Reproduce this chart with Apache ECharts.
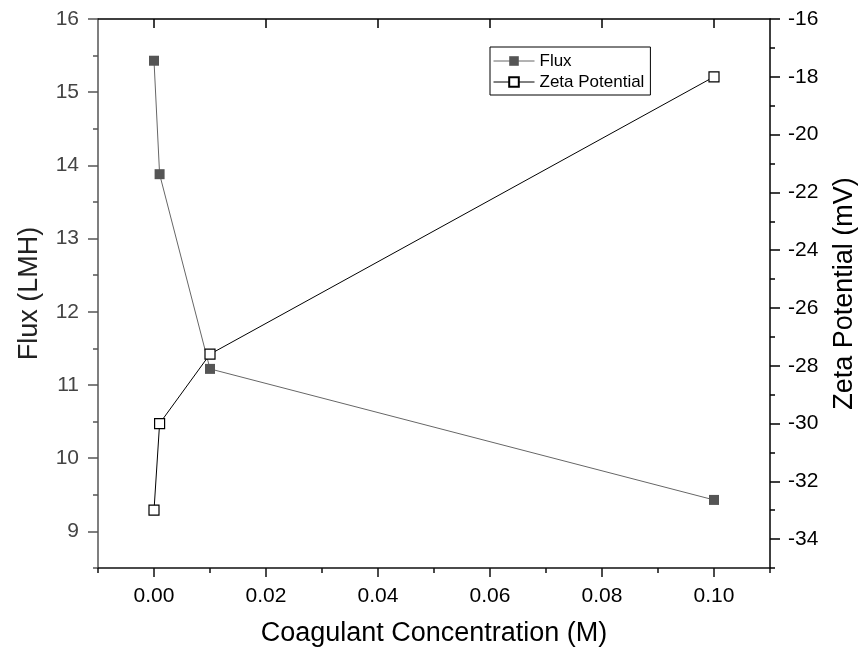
<!DOCTYPE html>
<html>
<head>
<meta charset="utf-8">
<script src="https://cdn.jsdelivr.net/npm/echarts@6/dist/echarts.min.js"></script>
<style>
  html, body { margin: 0; padding: 0; background: #fff; }
  #chart { width: 866px; height: 658px; }
</style>
</head>
<body>
<div id="chart"></div>
<script>
// values
const concentration = [0, 0.001, 0.01, 0.1];
const flux = [15.43, 13.88, 11.22, 9.43];
const zeta = [-33.0, -30.0, -27.6, -18.0];

const xMajor = [0, 0.02, 0.04, 0.06, 0.08, 0.1];
const xMinor = [-0.01, 0.01, 0.03, 0.05, 0.07, 0.09, 0.11];
const fluxMajor = [9, 10, 11, 12, 13, 14, 15, 16];
const fluxMinor = [8.5, 9.5, 10.5, 11.5, 12.5, 13.5, 14.5, 15.5];
const zetaMajor = [-34, -32, -30, -28, -26, -24, -22, -20, -18, -16];
const zetaMinor = [-35, -33, -31, -29, -27, -25, -23, -21, -19, -17];

const font = 'Liberation Sans, Arial, sans-serif';
const xRange = { min: -0.01, max: 0.11 };
const fluxRange = { min: 8.5, max: 16 };
const zetaRange = { min: -35, max: -16 };

// extra axis that only draws a set of ticks
function tickAxis(range, position, values, len, inside, color) {
    return Object.assign({
        type: 'value',
        position: position,
        splitLine: { show: false },
        axisLine: { show: false, onZero: false },
        axisLabel: { show: false },
        axisTick: {
            show: true,
            inside: inside,
            length: len,
            customValues: values,
            lineStyle: { color: color, width: 1.5 }
        }
    }, range);
}

const chart = echarts.init(document.getElementById('chart'));

chart.setOption({
    animation: false,
    grid: { left: 98, right: 92, top: 19, bottom: 90, containLabel: false },
    legend: {
        orient: 'vertical',
        left: 490,
        top: 47,
        padding: [5, 6, 4, 3],
        borderColor: '#000',
        borderWidth: 1,
        itemWidth: 41,
        itemHeight: 12,
        itemGap: 3,
        lineStyle: { width: 1 },
        textStyle: { fontFamily: font, fontSize: 17, lineHeight: 18, color: '#000' },
        data: ['Flux', 'Zeta Potential']
    },
    xAxis: [
        Object.assign({
            type: 'value',
            position: 'bottom',
            name: 'Coagulant Concentration (M)',
            nameLocation: 'middle',
            nameGap: 52,
            nameMoveOverlap: false,
            nameTextStyle: { fontFamily: font, fontSize: 27, color: '#000' },
            splitLine: { show: false },
            axisLine: { show: true, onZero: false, lineStyle: { color: '#111', width: 1.5 } },
            axisTick: {
                show: true,
                length: 9,
                customValues: xMajor,
                lineStyle: { color: '#111', width: 1.5 }
            },
            axisLabel: {
                margin: 18,
                customValues: xMajor,
                fontFamily: font,
                fontSize: 21,
                color: '#000',
                formatter: v => v.toFixed(2)
            }
        }, xRange),
        tickAxis(xRange, 'bottom', xMinor, 5, false, '#111'),
        Object.assign(tickAxis(xRange, 'top', xMajor, 9, true, '#000'), {
            axisLine: { show: true, onZero: false, lineStyle: { color: '#000', width: 1.5 } }
        })
    ],
    yAxis: [
        Object.assign({
            type: 'value',
            position: 'left',
            name: 'Flux (LMH)',
            nameLocation: 'middle',
            nameGap: 55,
            nameMoveOverlap: false,
            nameTextStyle: { fontFamily: font, fontSize: 27, color: '#222' },
            splitLine: { show: false },
            axisLine: { show: true, onZero: false, lineStyle: { color: '#555', width: 1.5 } },
            axisTick: {
                show: true,
                length: 10,
                customValues: fluxMajor,
                lineStyle: { color: '#555', width: 1.5 }
            },
            axisLabel: {
                margin: 19,
                customValues: fluxMajor,
                fontFamily: font,
                fontSize: 21,
                color: '#444'
            }
        }, fluxRange),
        tickAxis(fluxRange, 'left', fluxMinor, 5, false, '#555'),
        Object.assign({
            type: 'value',
            position: 'right',
            name: 'Zeta Potential (mV)',
            nameLocation: 'middle',
            nameGap: 61,
            nameMoveOverlap: false,
            nameTextStyle: { fontFamily: font, fontSize: 27, color: '#000' },
            splitLine: { show: false },
            axisLine: { show: true, onZero: false, lineStyle: { color: '#000', width: 1.5 } },
            axisTick: {
                show: true,
                length: 10,
                customValues: zetaMajor,
                lineStyle: { color: '#000', width: 1.5 }
            },
            axisLabel: {
                margin: 18,
                customValues: zetaMajor,
                fontFamily: font,
                fontSize: 21,
                color: '#000'
            }
        }, zetaRange),
        tickAxis(zetaRange, 'right', zetaMinor, 5, false, '#000')
    ],
    series: [
        {
            name: 'Flux',
            type: 'line',
            xAxisIndex: 0,
            yAxisIndex: 0,
            data: concentration.map((c, i) => [c, flux[i]]),
            symbol: 'rect',
            symbolSize: 10,
            lineStyle: { color: '#666', width: 1 },
            itemStyle: { color: '#555', borderColor: '#555', borderWidth: 0 }
        },
        {
            name: 'Zeta Potential',
            type: 'line',
            xAxisIndex: 0,
            yAxisIndex: 2,
            data: concentration.map((c, i) => [c, zeta[i]]),
            symbol: 'rect',
            symbolSize: 10,
            lineStyle: { color: '#000', width: 1 },
            itemStyle: { color: '#fff', borderColor: '#000', borderWidth: 1.2 }
        }
    ]
});
</script>
</body>
</html>
